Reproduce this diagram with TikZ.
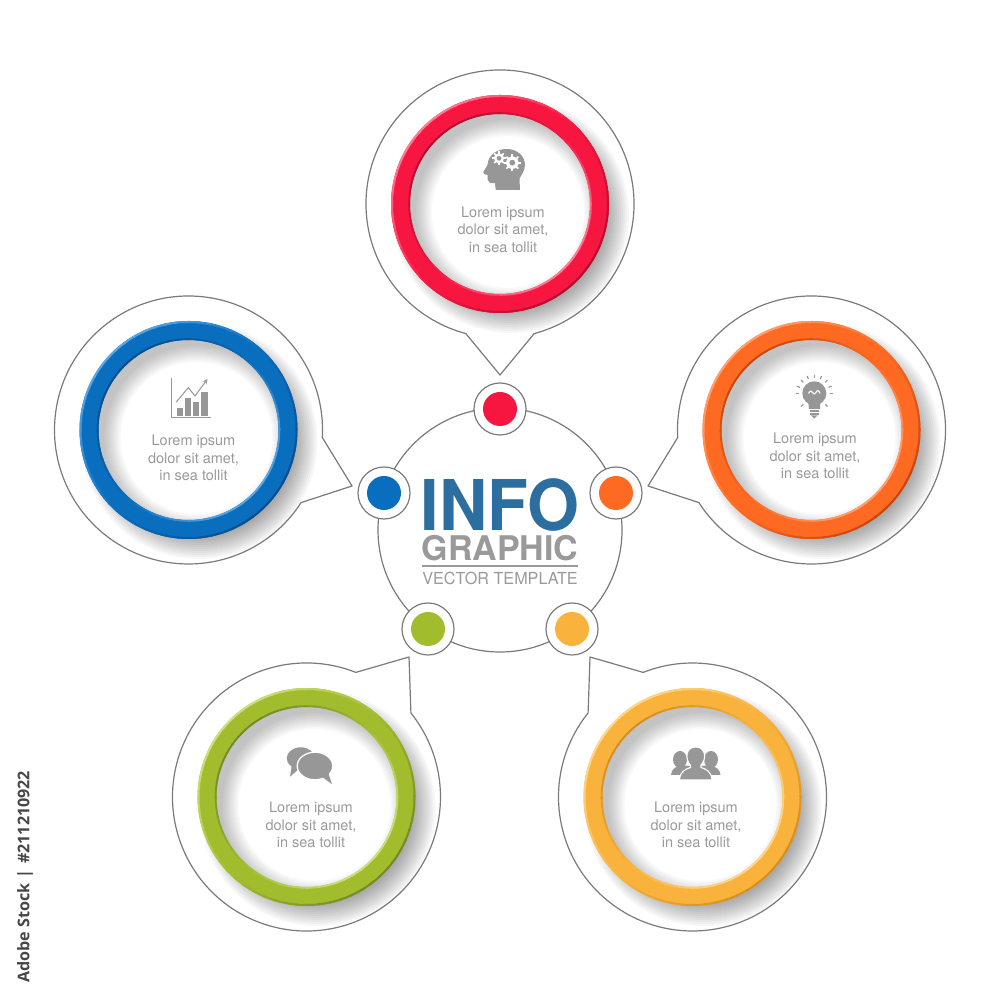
\documentclass[tikz,border=0pt]{standalone}
\usepackage{fontspec}
\setmainfont{TeX Gyre Heros}
\newfontfamily\sidefont{Open Sans}
\usetikzlibrary{arrows.meta,calc}
\definecolor{titleblue}{HTML}{2C6E9F}
\definecolor{txtgray}{HTML}{9A9A9A}
\definecolor{icongray}{HTML}{979797}
\definecolor{linegray}{HTML}{7A7A7A}
\definecolor{redB}{HTML}{F7163F}\definecolor{redD}{HTML}{B00F30}\definecolor{redL}{HTML}{FF7E96}
\definecolor{bluB}{HTML}{0A6EBE}\definecolor{bluD}{HTML}{0A4C8C}\definecolor{bluL}{HTML}{5BA8E6}
\definecolor{oraB}{HTML}{FF6A22}\definecolor{oraD}{HTML}{C4460E}\definecolor{oraL}{HTML}{FFA274}
\definecolor{greB}{HTML}{A1BD2E}\definecolor{greD}{HTML}{72882A}\definecolor{greL}{HTML}{CFE07E}
\definecolor{yelB}{HTML}{F9B33C}\definecolor{yelD}{HTML}{D38C20}\definecolor{yelL}{HTML}{FFD88E}
\tikzset{
  img/.style={shift={(0,1000)},yscale=-1},
  outline/.style={draw=linegray,line width=1.2pt,fill=white,line join=round},
  hubcircle/.style={circle,draw=linegray,line width=1.2pt,fill=white,minimum size=244pt,inner sep=0pt},
  portcircle/.style={circle,draw=linegray,line width=1.2pt,fill=white,minimum size=52pt,inner sep=0pt},
  portdot/.style={circle,minimum size=34pt,inner sep=0pt},
  lorem/.style={text=txtgray,align=center,inner sep=0pt,font=\fontsize{14.5}{17.6}\selectfont},
}
% #1 name, #2 cx, #3 cy, #4 tail angle, #5 tipx, #6 tipy, #7 base, #8 dark, #9 light
\newcommand{\bubble}[9]{%
  \coordinate (#1c) at (#2,#3);
  \coordinate (#1tip) at (#5,#6);
  \pgfmathsetmacro{\sa}{#4+14.8}
  \pgfmathsetmacro{\ea}{#4+345.2}
  \path[outline] (#1c) ++(\sa:134) arc[start angle=\sa,end angle=\ea,radius=134] -- (#1tip) -- cycle;
  \foreach \r in {96,98,...,118}{\fill[black,opacity=.032] ($(#1c)+(11,-11)$) circle[radius=\r];}
  \fill[white] (#1c) circle[radius=92];
  \begin{scope}
    \clip (#1c) circle[radius=92];
    \foreach \r in {76,78,...,92}{\fill[black,opacity=.028,even odd rule] (#1c) circle[radius=93] ($(#1c)+(8,-8)$) circle[radius=\r];}
  \end{scope}
  \draw[#7,line width=19pt] (#1c) circle[radius=99.5];
  \foreach \a in {0,6,...,354}{%
    \pgfmathsetmacro{\cs}{cos(\a+45)}
    \pgfmathtruncatemacro{\pp}{abs(\cs)*100}
    \pgfmathsetmacro{\ee}{\a+7}
    \ifdim\cs pt>0pt
      \draw[#8!\pp!#7,line width=2pt] (#1c) ++(\a:108) arc[start angle=\a,end angle=\ee,radius=108];
      \draw[#9!\pp!#7,line width=1.8pt] (#1c) ++(\a:90.9) arc[start angle=\a,end angle=\ee,radius=90.9];
    \else
      \draw[#9!\pp!#7,line width=2pt] (#1c) ++(\a:108) arc[start angle=\a,end angle=\ee,radius=108];
      \draw[#8!\pp!#7,line width=1.8pt] (#1c) ++(\a:90.9) arc[start angle=\a,end angle=\ee,radius=90.9];
    \fi
  }
}
\newcommand{\gearicon}[3]{% cx cy r (image coordinates)
  \fill[white] (#1,#2) circle[radius=#3*0.78];
  \foreach \t in {0,45,...,315}{\draw[white,line width=1.7pt] (#1,#2) ++(\t:#3*0.6) -- ++(\t:#3*0.45);}
  \fill[icongray] (#1,#2) circle[radius=#3*0.36];
}
\begin{document}
\begin{tikzpicture}[x=1pt,y=1pt]
\useasboundingbox (0,0) rectangle (1000,1000);
\fill[white] (0,0) rectangle (1000,1000);

\bubble{top}{500}{796}{270}{500}{625}{redB}{redD}{redL}
\bubble{lef}{188.5}{570}{-18}{352}{514}{bluB}{bluD}{bluL}
\bubble{rig}{811.5}{570}{198}{648}{514}{oraB}{oraD}{oraL}
\bubble{bol}{306.5}{203}{53.6}{409}{343}{greB}{greD}{greL}
\bubble{bor}{692.5}{203}{126.4}{590}{343}{yelB}{yelD}{yelL}

% hub
\node[hubcircle] (hub) at (500,470) {};
\node[portcircle] (p1) at (500,591) {};
\node[portdot,fill=redB] (d1) at (p1) {};
\node[portcircle] (p2) at (384,507) {};
\node[portdot,fill=bluB] (d2) at (p2) {};
\node[portcircle] (p3) at (616,507) {};
\node[portdot,fill=oraB] (d3) at (p3) {};
\node[portcircle] (p4) at (428,371) {};
\node[portdot,fill=greB] (d4) at (p4) {};
\node[portcircle] (p5) at (572,371) {};
\node[portdot,fill=yelB] (d5) at (p5) {};

\node[text=titleblue,inner sep=0pt,anchor=base,font=\fontsize{70}{70}\selectfont\bfseries] (tinfo) at (500,469) {\scalebox{0.955}[1]{INFO}};
\node[text=txtgray,inner sep=0pt,anchor=base,font=\fontsize{34}{34}\selectfont\bfseries] (tgraph) at (500,439) {GRAPHIC};
\draw[txtgray,line width=1.6pt] (422,434) -- (578,434);
\node[text=txtgray,inner sep=0pt,anchor=base,font=\fontsize{16.6}{17}\selectfont] (tvec) at (500,415) {\scalebox{0.975}[1]{VECTOR TEMPLATE}};

% texts
\node[lorem] (l1) at (503,770.5) {Lorem ipsum\\dolor sit amet,\\in sea tollit};
\node[lorem] (l2) at (193.5,542) {Lorem ipsum\\dolor sit amet,\\in sea tollit};
\node[lorem] (l3) at (815,544) {Lorem ipsum\\dolor sit amet,\\in sea tollit};
\node[lorem] (l4) at (311,175) {Lorem ipsum\\dolor sit amet,\\in sea tollit};
\node[lorem] (l5) at (696,175) {Lorem ipsum\\dolor sit amet,\\in sea tollit};

\node[rotate=90,anchor=west,inner sep=0pt,text=black!72,font=\sidefont\bfseries\fontsize{16.1}{17}\selectfont] (stock) at (25,17) {Adobe Stock\,\,|\,\,\#211210922};

% icons, in image coordinates
\begin{scope}[img]
  % head
  \fill[icongray] (520,190) -- (495.7,190) -- (495,183) .. controls (491,183.5) and (488,183) .. (487.7,180)
    -- (487.5,175) -- (484,174) -- (483.3,172) -- (487.5,165) .. controls (488,155) and (497,149) .. (507,149)
    .. controls (517,149) and (525,156) .. (525,165) .. controls (525,171) and (521,175) .. (519.5,179) -- cycle;
  \gearicon{499}{158.3}{6.5}
  \gearicon{512.3}{162.7}{8}
  % chart
  \draw[icongray,line width=1pt] (171.7,378) -- (171.7,417.5) -- (211,417.5);
  \fill[icongray] (176.7,416.5) rectangle (183.3,408.3);
  \fill[icongray] (184.5,416.5) rectangle (191,398.3);
  \fill[icongray] (192.7,416.5) rectangle (199.3,402.3);
  \fill[icongray] (201,416.5) rectangle (207.5,392.3);
  \draw[icongray,line width=1pt,-{Stealth[length=5pt,width=5pt]}] (176,402.3) -- (188.3,387.7) -- (195,396) -- (207.5,379);
  % bulb
  \fill[icongray] (814.3,393.3) circle[radius=12];
  \fill[icongray] (808,400) -- (820.5,400) -- (820,409) -- (809,409) -- cycle;
  \draw[icongray,line width=2pt] (809.5,411) -- (819,411) (809.5,414) -- (819,414);
  \fill[icongray] (811,415.5) -- (817.5,415.5) -- (814.3,418.5) -- cycle;
  \foreach \t in {180,202.5,225,247.5,270,292.5,315,337.5,0,45,135}{
    \draw[icongray,line width=1.2pt] (814.3,393.3) ++(\t:15.5) -- ++(\t:3.2);}
  \draw[white,line width=1.1pt] (808.5,393.5) .. controls (810,390) and (812,390.5) .. (812.5,392.5)
     .. controls (813.5,394.5) and (815,394.5) .. (816,392.5) .. controls (817,390) and (819,390) .. (820,393.5);
  % chat
  \fill[icongray] (300.7,758.3) ellipse[x radius=14,y radius=11];
  \fill[icongray] (292,764) -- (290,776.7) -- (300,768) -- cycle;
  \fill[icongray,draw=white,line width=1.3pt] (315,766) ellipse[x radius=17.8,y radius=13.8];
  \fill[icongray] (321,776) -- (332,784.3) -- (328,772) -- cycle;
  % people
  \fill[icongray] (680,759.5) ellipse[x radius=7,y radius=8.5];
  \fill[icongray] (711,759.5) ellipse[x radius=7,y radius=8.5];
  \fill[icongray] (671,775) .. controls (671.5,769) and (675,767.5) .. (680,765) -- (690,766) -- (688,775) -- cycle;
  \fill[icongray] (720.5,775) .. controls (720,769) and (716,767.5) .. (711,765) -- (701,766) -- (703,775) -- cycle;
  \fill[icongray,draw=white,line width=1.1pt] (679.5,780) .. controls (680,771) and (686,769) .. (690.5,767.5)
     -- (690.5,765) .. controls (685,760) and (685,747) .. (695.7,747) .. controls (706.5,747) and (706.5,760) .. (701,765)
     -- (701,767.5) .. controls (705.5,769) and (711.5,771) .. (712,780) -- cycle;
\end{scope}
\end{tikzpicture}
\end{document}
